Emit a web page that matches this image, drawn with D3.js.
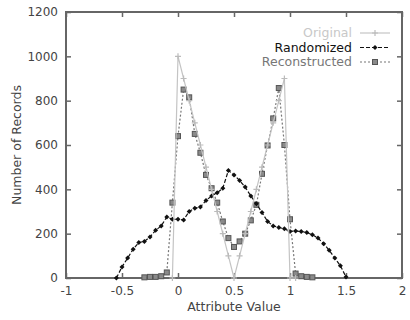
<!DOCTYPE html>
<html>
<head>
<meta charset="utf-8">
<script src="https://cdn.jsdelivr.net/npm/d3@7"></script>
<style>
  body { margin: 0; background: #fff; }
  text { font-family: "DejaVu Sans", sans-serif; }
</style>
</head>
<body>
<svg id="chart"></svg>
<script>
// Attribute value bins and counts
const origX = [-0.05, 0, 0.05, 0.1, 0.15, 0.2, 0.25, 0.3, 0.35, 0.4, 0.45, 0.5, 0.55, 0.6, 0.65, 0.7, 0.75, 0.8, 0.85, 0.9, 0.95, 1.0, 1.05];
const origY = [0, 1000, 900, 800, 700, 600, 500, 400, 300, 200, 100, 0, 100, 200, 300, 400, 500, 600, 700, 800, 900, 0, 0];

const randX = [-0.55, -0.5, -0.45, -0.4, -0.35, -0.3, -0.25, -0.2, -0.15, -0.1, -0.05, 0, 0.05, 0.1, 0.15, 0.2, 0.25, 0.3, 0.35, 0.4, 0.45, 0.5, 0.55, 0.6, 0.65, 0.7, 0.75, 0.8, 0.85, 0.9, 0.95, 1.0, 1.05, 1.1, 1.15, 1.2, 1.25, 1.3, 1.35, 1.4, 1.45, 1.5];
const randY = [0, 50, 90, 130, 160, 165, 185, 215, 235, 275, 265, 265, 262, 300, 315, 320, 350, 370, 385, 405, 485, 465, 440, 410, 370, 335, 295, 255, 235, 228, 222, 210, 212, 210, 205, 195, 180, 155, 125, 90, 55, 5];

const recX = [-0.3, -0.25, -0.2, -0.15, -0.1, -0.05, 0, 0.05, 0.1, 0.15, 0.2, 0.25, 0.3, 0.35, 0.4, 0.45, 0.5, 0.55, 0.6, 0.65, 0.7, 0.75, 0.8, 0.85, 0.9, 0.95, 1.0, 1.05, 1.1, 1.15, 1.2];
const recY = [3, 5, 5, 8, 25, 340, 640, 850, 815, 650, 565, 465, 405, 340, 255, 180, 140, 165, 200, 260, 330, 470, 598, 720, 857, 600, 265, 20, 8, 5, 3];

const xTicks = [-1, -0.5, 0, 0.5, 1, 1.5, 2];
const yTicks = [0, 200, 400, 600, 800, 1000, 1200];
const seriesNames = ["Original", "Randomized", "Reconstructed"];

const width = 410, height = 320;
const margin = { top: 12, right: 8, bottom: 42, left: 66 };

const svg = d3.select("#chart").attr("width", width).attr("height", height);

const x = d3.scaleLinear().domain([-1, 2]).range([margin.left, width - margin.right]);
const y = d3.scaleLinear().domain([0, 1200]).range([height - margin.bottom, margin.top]);

const frameColor = "#666";
const plain = d => String(d);

// ticks on all four sides, pointing inward (gnuplot style)
svg.append("g")
    .attr("transform", `translate(0,${y(0)})`)
    .call(d3.axisBottom(x).tickValues(xTicks).tickSize(-5).tickPadding(8).tickFormat(plain))
    .call(g => g.select(".domain").remove());
svg.append("g")
    .attr("transform", `translate(0,${y(1200)})`)
    .call(d3.axisTop(x).tickValues(xTicks).tickSize(-5).tickFormat(""))
    .call(g => g.select(".domain").remove());
svg.append("g")
    .attr("transform", `translate(${x(-1)},0)`)
    .call(d3.axisLeft(y).tickValues(yTicks).tickSize(-5).tickPadding(8).tickFormat(plain))
    .call(g => g.select(".domain").remove());
svg.append("g")
    .attr("transform", `translate(${x(2)},0)`)
    .call(d3.axisRight(y).tickValues(yTicks).tickSize(-5).tickFormat(""))
    .call(g => g.select(".domain").remove());

svg.selectAll(".tick line").attr("stroke", frameColor).attr("stroke-width", 1.5);
svg.selectAll(".tick text").attr("fill", "#444").style("font-size", "12px");

svg.append("rect")
    .attr("x", x(-1)).attr("y", y(1200))
    .attr("width", x(2) - x(-1)).attr("height", y(0) - y(1200))
    .attr("fill", "none").attr("stroke", frameColor).attr("stroke-width", 2);

// axis titles
svg.append("text")
    .attr("x", (x(-1) + x(2)) / 2).attr("y", 311)
    .attr("text-anchor", "middle").attr("fill", "#444")
    .style("font-size", "12.5px")
    .text("Attribute Value");
svg.append("text")
    .attr("transform", `translate(17,${(y(0) + y(1200)) / 2}) rotate(-90)`)
    .attr("text-anchor", "middle").attr("dy", "0.35em").attr("fill", "#444")
    .style("font-size", "12.5px")
    .text("Number of Records");

const line = d3.line().x(d => x(d[0])).y(d => y(d[1]));
const zip = (xs, ys) => xs.map((v, i) => [v, ys[i]]);

const series = [
    { name: seriesNames[0], pts: zip(origX, origY), stroke: "#c4c4c4", dash: null, text: "#c8c8c8" },
    { name: seriesNames[1], pts: zip(randX, randY), stroke: "#111", dash: "4,2", text: "#111" },
    { name: seriesNames[2], pts: zip(recX, recY), stroke: "#777", dash: "2,2", text: "#777" }
];

function drawMarker(g, s, cx, cy) {
    if (s.name === "Original") {
        g.append("path").attr("d", `M${cx - 3},${cy}H${cx + 3}M${cx},${cy - 3}V${cy + 3}`)
            .attr("stroke", "#bbb").attr("stroke-width", 1.2);
    } else if (s.name === "Randomized") {
        g.append("path").attr("d", `M${cx},${cy - 2.5}L${cx + 2.5},${cy}L${cx},${cy + 2.5}L${cx - 2.5},${cy}Z`)
            .attr("fill", "#111");
    } else {
        g.append("rect").attr("x", cx - 2.5).attr("y", cy - 2.5).attr("width", 5).attr("height", 5)
            .attr("fill", "#8a8a8a").attr("stroke", "#555").attr("stroke-width", 1);
    }
}

// draw order: reconstructed, randomized, original
[series[2], series[1], series[0]].forEach(s => {
    const g = svg.append("g");
    g.append("path").datum(s.pts)
        .attr("d", line)
        .attr("fill", "none")
        .attr("stroke", s.stroke)
        .attr("stroke-width", 1.2)
        .attr("stroke-dasharray", s.dash);
    s.pts.forEach(p => drawMarker(g, s, x(p[0]), y(p[1])));
});

// legend
const legend = svg.append("g");
series.forEach((s, i) => {
    const ly = 33 + i * 14.5;
    legend.append("text")
        .attr("x", 352).attr("y", ly).attr("dy", "0.35em")
        .attr("text-anchor", "end").attr("fill", s.text)
        .style("font-size", "12.5px")
        .text(s.name);
    legend.append("line")
        .attr("x1", 360).attr("x2", 390).attr("y1", ly).attr("y2", ly)
        .attr("stroke", s.stroke).attr("stroke-width", 1.2)
        .attr("stroke-dasharray", s.dash);
    drawMarker(legend, s, 375, ly);
});
</script>
</body>
</html>
